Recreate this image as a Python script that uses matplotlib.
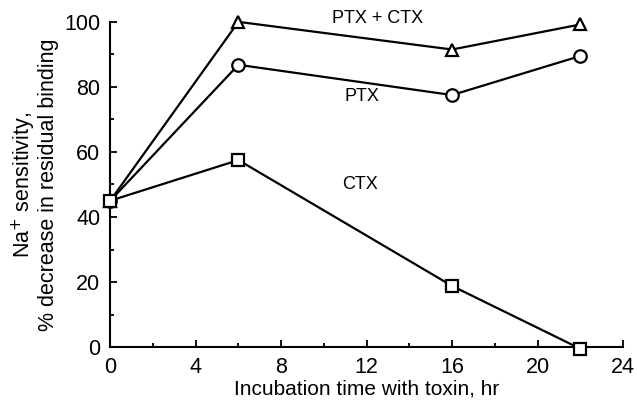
import matplotlib
matplotlib.use("Agg")
import matplotlib.pyplot as plt
from matplotlib.ticker import MultipleLocator

plt.rcParams['font.family'] = ['Liberation Sans', 'DejaVu Sans']

hours = [0, 6, 16, 22]
ptx_ctx = [45, 100, 91.5, 99.2]
ptx = [45, 86.8, 77.5, 89.5]
ctx = [45, 57.5, 18.8, -0.5]

x_ticks = [0, 4, 8, 12, 16, 20, 24]
y_ticks = [0, 20, 40, 60, 80, 100]

fig = plt.figure(figsize=(6.37, 4.05), dpi=100)
ax = fig.add_axes([0.173, 0.143, 0.805, 0.803])

common = dict(color='black', lw=1.6, mfc='white', mec='black', mew=1.6, clip_on=False, zorder=3)
ax.plot(hours, ptx_ctx, marker='^', ms=9, **common)
ax.plot(hours, ptx, marker='o', ms=9, **common)
ax.plot(hours, ctx, marker='s', ms=8.5, **common)

ax.text(12.5, 101, 'PTX + CTX', ha='center', va='center', fontsize=13)
ax.text(11.8, 77, 'PTX', ha='center', va='center', fontsize=13)
ax.text(11.7, 50, 'CTX', ha='center', va='center', fontsize=13)

ax.set_xlim(0, 24)
ax.set_ylim(0, 100)
ax.set_xticks(x_ticks)
ax.set_yticks(y_ticks)
ax.xaxis.set_minor_locator(MultipleLocator(2))
ax.yaxis.set_minor_locator(MultipleLocator(10))
ax.tick_params(which='both', direction='in', width=1.3, labelsize=15.5)
ax.tick_params(which='major', length=5, pad=7)
ax.tick_params(which='minor', length=3)
for s in ['top', 'right']:
    ax.spines[s].set_visible(False)
for s in ['left', 'bottom']:
    ax.spines[s].set_linewidth(1.5)

ax.set_xlabel('Incubation time with toxin, hr', fontsize=15, labelpad=1)
ax.set_ylabel('Na$^{+}$ sensitivity,\n% decrease in residual binding', fontsize=15.5, labelpad=4, linespacing=1.0)

fig.savefig('out.png', dpi=100)
